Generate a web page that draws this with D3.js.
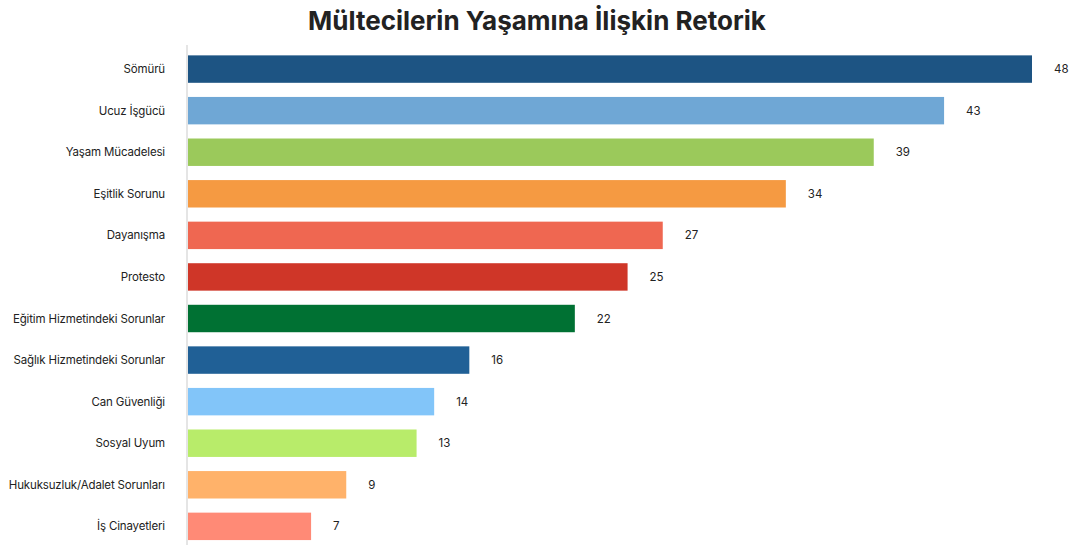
<!DOCTYPE html>
<html lang="tr">
<head>
<meta charset="UTF-8">
<title>Mültecilerin Yaşamına İlişkin Retorik</title>
<script src="https://d3js.org/d3.v7.min.js"></script>
<style>
  body { margin: 0; background: #fff; font-family: Inter, "Noto Sans", sans-serif; }
  .title { font-weight: 700; font-size: 26px; fill: #222; }
  .cat { font-size: 11.5px; fill: #222; letter-spacing: -0.15px; }
  .val { font-size: 11.5px; fill: #222; }
</style>
</head>
<body>
<div id="chart"></div>
<script>
// data
const categories = ["Sömürü", "Ucuz İşgücü", "Yaşam Mücadelesi", "Eşitlik Sorunu", "Dayanışma", "Protesto",
  "Eğitim Hizmetindeki Sorunlar", "Sağlık Hizmetindeki Sorunlar", "Can Güvenliği", "Sosyal Uyum",
  "Hukuksuzluk/Adalet Sorunları", "İş Cinayetleri"];
const values = [48, 43, 39, 34, 27, 25, 22, 16, 14, 13, 9, 7];
const colors = ["#1d5483", "#6fa7d5", "#9bc95b", "#f59a42", "#ef6751", "#cf3628",
  "#007133", "#206096", "#82c5f9", "#b8ec6a", "#ffb26a", "#ff8a76"];

const width = 1078, height = 545;
const margin = { left: 188, right: 46, top: 48, bottom: 0 };

const svg = d3.select("#chart").append("svg")
  .attr("width", width)
  .attr("height", height);

svg.append("text")
  .attr("class", "title")
  .attr("x", 537)
  .attr("y", 30)
  .attr("text-anchor", "middle")
  .text("Mültecilerin Yaşamına İlişkin Retorik");

const x = d3.scaleLinear()
  .domain([0, 48])
  .range([margin.left, 1032]);

const y = d3.scaleBand()
  .domain(categories)
  .range([48.3, 48.3 + 12 * 41.57])
  .paddingInner(0.34)
  .paddingOuter(0.17);

const rows = categories.map((c, i) => ({ cat: c, val: values[i], color: colors[i] }));

svg.selectAll("rect.bar")
  .data(rows)
  .join("rect")
  .attr("class", "bar")
  .attr("x", x(0))
  .attr("y", d => y(d.cat))
  .attr("width", d => x(d.val) - x(0))
  .attr("height", y.bandwidth())
  .attr("fill", d => d.color);

// axis line
svg.append("line")
  .attr("x1", 187).attr("x2", 187)
  .attr("y1", 45).attr("y2", height)
  .attr("stroke", "#ddd")
  .attr("stroke-width", 1.5);

svg.selectAll("text.cat")
  .data(rows)
  .join("text")
  .attr("class", "cat")
  .attr("x", 165)
  .attr("y", d => y(d.cat) + y.bandwidth() / 2)
  .attr("dy", "0.35em")
  .attr("text-anchor", "end")
  .text(d => d.cat);

svg.selectAll("text.val")
  .data(rows)
  .join("text")
  .attr("class", "val")
  .attr("x", d => x(d.val) + 22)
  .attr("y", d => y(d.cat) + y.bandwidth() / 2)
  .attr("dy", "0.35em")
  .text(d => d.val);
</script>
</body>
</html>
